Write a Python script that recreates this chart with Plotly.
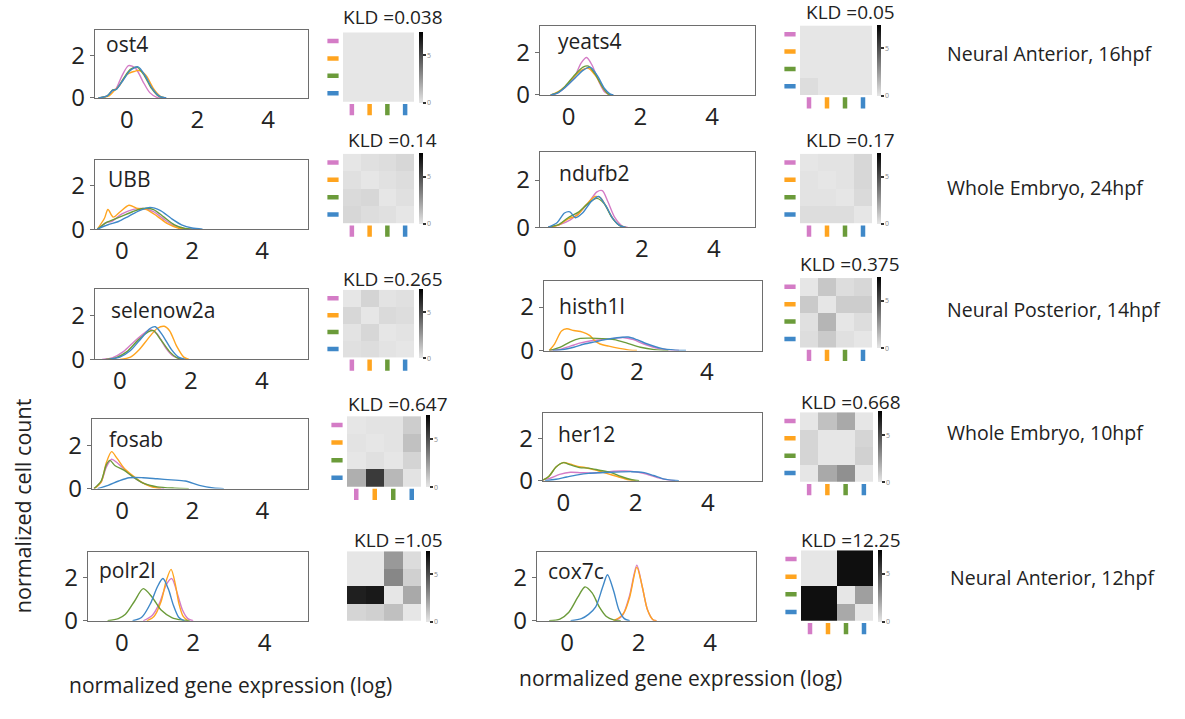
import plotly.graph_objects as go

W, H = 1185, 719
FONT = "Open Sans, DejaVu Sans, sans-serif"

# ---------------- data ----------------
genes = ["ost4", "UBB", "selenow2a", "fosab", "polr2l",
         "yeats4", "ndufb2", "histh1l", "her12", "cox7c"]
kld_labels = ["0.038", "0.14", "0.265", "0.647", "1.05",
              "0.05", "0.17", "0.375", "0.668", "12.25"]
conditions = ["Neural Anterior, 16hpf", "Whole Embryo, 24hpf",
              "Neural Posterior, 14hpf", "Whole Embryo, 10hpf",
              "Neural Anterior, 12hpf"]
groups = ["pink", "orange", "green", "blue"]
group_colors = {"pink": "#d47cc6", "orange": "#ffa41f",
                "green": "#6b9b3a", "blue": "#3f88c8"}
x_ticks = [0, 2, 4]
y_ticks = [0, 2]
cbar_ticks = [0, 5]

# density curves: group -> (x values, y values)
ost4 = {
    "orange": ([-0.8, -0.5, -0.35, -0.2, 0, 0.2, 0.35, 0.55, 0.75, 0.95, 1.1],
               [0, 0.1, 0.35, 0.6, 1.1, 1.25, 1.3, 1.05, 0.45, 0.08, 0]),
    "green": ([-0.8, -0.55, -0.4, -0.3, -0.1, 0.1, 0.3, 0.5, 0.7, 0.9, 1.1],
              [0, 0.1, 0.38, 0.4, 0.9, 1.35, 1.45, 1.05, 0.45, 0.08, 0]),
    "blue": ([-0.8, -0.55, -0.4, -0.3, -0.1, 0.1, 0.32, 0.52, 0.72, 0.92, 1.12],
             [0, 0.1, 0.36, 0.4, 0.85, 1.3, 1.47, 1.05, 0.45, 0.08, 0]),
    "pink": ([-0.8, -0.55, -0.4, -0.3, -0.15, 0.05, 0.25, 0.45, 0.65, 0.85, 1.0],
             [0, 0.1, 0.35, 0.45, 1.0, 1.53, 1.4, 0.8, 0.25, 0.03, 0]),
}
UBB = {
    "orange": ([-0.7, -0.5, -0.4, -0.25, -0.05, 0.2, 0.45, 0.7, 1.0, 1.3, 1.6, 1.8],
               [0, 0.5, 0.9, 0.55, 0.8, 1.1, 0.95, 0.9, 0.6, 0.25, 0.05, 0]),
    "pink": ([-0.7, -0.45, -0.3, 0, 0.3, 0.6, 0.9, 1.2, 1.5, 1.8, 2.0],
             [0, 0.3, 0.35, 0.7, 0.9, 0.95, 0.8, 0.45, 0.15, 0.02, 0]),
    "green": ([-0.7, -0.45, -0.3, 0, 0.3, 0.6, 0.9, 1.2, 1.5, 1.8, 2.0],
              [0, 0.3, 0.4, 0.6, 0.8, 0.95, 0.9, 0.55, 0.2, 0.03, 0]),
    "blue": ([-0.7, -0.4, -0.1, 0.2, 0.5, 0.8, 1.1, 1.4, 1.7, 2.0, 2.3],
             [0, 0.2, 0.35, 0.6, 0.85, 1.0, 0.85, 0.5, 0.2, 0.05, 0]),
}
selenow2a = {
    "pink": ([-0.5, -0.2, 0.1, 0.4, 0.7, 0.85, 1.05, 1.3, 1.5, 1.75],
             [0, 0.08, 0.35, 0.8, 1.2, 1.35, 1.15, 0.5, 0.15, 0]),
    "green": ([-0.4, -0.1, 0.2, 0.5, 0.8, 0.95, 1.15, 1.4, 1.6, 1.8],
              [0, 0.08, 0.35, 0.85, 1.25, 1.3, 0.9, 0.35, 0.08, 0]),
    "blue": ([-0.3, 0, 0.3, 0.6, 0.85, 1.0, 1.2, 1.45, 1.65, 1.85],
             [0, 0.1, 0.4, 0.95, 1.4, 1.48, 1.1, 0.45, 0.1, 0]),
    "orange": ([0, 0.3, 0.55, 0.8, 1.05, 1.25, 1.4, 1.6, 1.8, 1.95],
               [0, 0.1, 0.45, 0.95, 1.4, 1.5, 1.3, 0.6, 0.1, 0]),
}
fosab = {
    "blue": ([-0.7, -0.4, -0.1, 0.2, 0.6, 1.0, 1.4, 1.8, 2.2, 2.6, 2.9],
             [0, 0.15, 0.35, 0.5, 0.5, 0.45, 0.4, 0.35, 0.15, 0.03, 0]),
    "green": ([-0.8, -0.6, -0.45, -0.35, -0.2, 0.05, 0.3, 0.6, 1.0, 1.5, 1.9],
              [0, 0.35, 1.1, 1.3, 1.05, 0.85, 0.55, 0.25, 0.08, 0.02, 0]),
    "pink": ([-0.8, -0.6, -0.45, -0.3, -0.15, 0.05, 0.3, 0.6, 0.9, 1.2],
             [0, 0.3, 1.0, 1.35, 1.2, 0.9, 0.55, 0.25, 0.08, 0]),
    "orange": ([-0.8, -0.6, -0.45, -0.3, -0.15, 0.05, 0.3, 0.55, 0.8, 1.1],
               [0, 0.3, 1.2, 1.7, 1.4, 0.95, 0.6, 0.3, 0.1, 0]),
}
polr2l = {
    "green": ([-0.4, -0.1, 0.1, 0.35, 0.6, 0.85, 1.1, 1.4, 1.7, 1.9],
              [0, 0.1, 0.3, 0.9, 1.5, 1.1, 0.5, 0.15, 0.03, 0]),
    "blue": ([0.3, 0.55, 0.8, 1.0, 1.15, 1.3, 1.45, 1.6, 1.75],
             [0, 0.15, 0.8, 1.6, 1.97, 1.5, 0.7, 0.15, 0]),
    "pink": ([0.6, 0.85, 1.05, 1.25, 1.4, 1.55, 1.7, 1.85, 2.0],
             [0, 0.25, 0.8, 1.7, 1.97, 1.3, 0.5, 0.1, 0]),
    "orange": ([0.7, 0.9, 1.1, 1.25, 1.38, 1.5, 1.6, 1.72, 1.85],
               [0, 0.2, 0.9, 1.9, 2.4, 1.7, 0.8, 0.2, 0]),
}
yeats4 = {
    "blue": ([-0.5, -0.3, -0.1, 0.15, 0.4, 0.6, 0.8, 1.0, 1.15, 1.25],
             [0, 0.1, 0.35, 0.75, 1.15, 1.3, 0.9, 0.3, 0.05, 0]),
    "orange": ([-0.5, -0.3, -0.1, 0.15, 0.35, 0.55, 0.75, 0.95, 1.1, 1.2],
               [0, 0.15, 0.4, 0.85, 1.15, 1.25, 0.9, 0.35, 0.05, 0]),
    "green": ([-0.5, -0.3, -0.1, 0.15, 0.4, 0.55, 0.75, 0.95, 1.1, 1.2],
              [0, 0.12, 0.4, 0.9, 1.3, 1.35, 0.95, 0.35, 0.05, 0]),
    "pink": ([-0.5, -0.3, -0.1, 0.15, 0.35, 0.5, 0.65, 0.85, 1.0, 1.15],
             [0, 0.1, 0.35, 0.8, 1.5, 1.75, 1.4, 0.6, 0.15, 0]),
}
ndufb2 = {
    "green": ([-0.6, -0.3, -0.05, 0.25, 0.5, 0.75, 0.95, 1.15, 1.35, 1.5],
              [0, 0.12, 0.4, 0.65, 1.0, 1.22, 1.0, 0.45, 0.1, 0]),
    "orange": ([-0.6, -0.3, -0.05, 0.2, 0.45, 0.7, 0.85, 1.0, 1.2, 1.4, 1.55],
               [0, 0.1, 0.35, 0.5, 0.95, 1.3, 1.25, 0.9, 0.35, 0.05, 0]),
    "blue": ([-0.6, -0.35, -0.15, 0.0, 0.15, 0.35, 0.6, 0.8, 1.0, 1.2, 1.4, 1.55],
             [0, 0.2, 0.6, 0.65, 0.4, 0.6, 1.1, 1.3, 0.9, 0.35, 0.05, 0]),
    "pink": ([-0.6, -0.3, 0, 0.25, 0.5, 0.75, 0.9, 1.05, 1.25, 1.45, 1.6],
             [0, 0.1, 0.3, 0.6, 1.0, 1.5, 1.55, 1.1, 0.4, 0.05, 0]),
}
histh1l = {
    "blue": ([-0.4, -0.1, 0.2, 0.5, 0.8, 1.1, 1.4, 1.75, 2.0, 2.3, 2.7, 3.1, 3.4],
             [0, 0.05, 0.15, 0.3, 0.4, 0.5, 0.58, 0.62, 0.5, 0.3, 0.1, 0.02, 0]),
    "pink": ([-0.5, -0.2, 0.1, 0.4, 0.7, 1.0, 1.3, 1.6, 1.9, 2.2, 2.6, 3.0, 3.2],
             [0, 0.05, 0.2, 0.35, 0.45, 0.5, 0.55, 0.6, 0.5, 0.3, 0.1, 0.02, 0]),
    "green": ([-0.5, -0.2, 0.1, 0.35, 0.7, 1.0, 1.35, 1.7, 2.1, 2.5, 2.9],
              [0, 0.15, 0.4, 0.55, 0.57, 0.55, 0.5, 0.35, 0.15, 0.04, 0]),
    "orange": ([-0.5, -0.35, -0.15, 0, 0.2, 0.45, 0.65, 0.8, 0.95, 1.2, 1.5, 1.8, 2.0],
               [0, 0.3, 0.9, 1.0, 0.92, 0.85, 0.7, 0.45, 0.3, 0.2, 0.1, 0.02, 0]),
}
her12 = {
    "blue": ([-0.5, -0.2, 0.1, 0.4, 0.7, 1.0, 1.3, 1.6, 1.9, 2.2, 2.5, 2.8, 3.1, 3.2],
             [0, 0.07, 0.18, 0.28, 0.35, 0.38, 0.4, 0.42, 0.43, 0.4, 0.25, 0.08, 0.01, 0]),
    "pink": ([-0.7, -0.4, -0.1, 0.2, 0.5, 0.8, 1.1, 1.4, 1.7, 2.0, 2.3, 2.6, 2.9, 3.1],
             [0, 0.1, 0.3, 0.4, 0.38, 0.37, 0.4, 0.45, 0.46, 0.42, 0.32, 0.15, 0.04, 0]),
    "green": ([-0.6, -0.4, -0.2, 0, 0.2, 0.45, 0.7, 1.0, 1.3, 1.6, 1.9, 2.1],
              [0, 0.2, 0.65, 0.86, 0.75, 0.62, 0.6, 0.5, 0.4, 0.2, 0.05, 0]),
    "orange": ([-0.6, -0.4, -0.2, 0, 0.2, 0.4, 0.6, 0.9, 1.2, 1.5, 1.8, 2.0],
               [0, 0.2, 0.65, 0.86, 0.78, 0.68, 0.63, 0.5, 0.35, 0.2, 0.05, 0]),
}
cox7c = {
    "green": ([-0.5, -0.2, 0.05, 0.3, 0.5, 0.7, 0.9, 1.1, 1.3, 1.5],
              [0, 0.08, 0.4, 1.1, 1.58, 1.3, 0.65, 0.2, 0.04, 0]),
    "blue": ([0.1, 0.4, 0.6, 0.8, 1.0, 1.13, 1.3, 1.45, 1.6, 1.75],
             [0, 0.1, 0.3, 0.65, 1.6, 2.15, 1.4, 0.5, 0.1, 0]),
    "orange": ([1.3, 1.5, 1.6, 1.75, 1.95, 2.1, 2.25, 2.4, 2.5],
               [0, 0.2, 0.4, 1.1, 2.5, 1.6, 0.5, 0.05, 0]),
    "pink": ([1.35, 1.55, 1.75, 1.95, 2.1, 2.25, 2.4, 2.5],
             [0, 0.25, 1.2, 2.6, 1.6, 0.5, 0.05, 0]),
}
curves = {"ost4": ost4, "UBB": UBB, "selenow2a": selenow2a, "fosab": fosab,
          "polr2l": polr2l, "yeats4": yeats4, "ndufb2": ndufb2,
          "histh1l": histh1l, "her12": her12, "cox7c": cox7c}

# pairwise KLD matrices (rows/cols: pink, orange, green, blue)
ost4_kld = [[0, 0, 0, 0], [0, 0, 0, 0], [0, 0, 0, 0], [0, 0, 0, 0]]
UBB_kld = [[0, 0.2, 0.3, 0.5], [0.2, 0, 0.15, 0.3], [0.4, 0.5, 0, 0.2], [0.5, 0.3, 0.2, 0]]
selenow2a_kld = [[0, 0.6, 0.1, 0.2], [0.5, 0, 0.4, 0.3], [0.1, 0.5, 0, 0.1], [0.2, 0.3, 0.1, 0]]
fosab_kld = [[0, 0.1, 0.1, 0.8], [0.1, 0, 0.1, 1.2], [0, 0.2, 0, 0.6], [1.8, 5.6, 1.5, 0.1]]
polr2l_kld = [[0, 0, 2.5, 0.33], [0, 0, 3.1, 0.72], [6.5, 6.7, 0, 2.0], [0.55, 0.72, 1.24, 0]]
yeats4_kld = [[0, 0, 0, 0], [0, 0, 0, 0], [0, 0, 0, 0], [0.3, 0, 0, 0]]
ndufb2_kld = [[0, 0.1, 0.1, 0.5], [0.1, 0, 0.1, 0.5], [0.1, 0.1, 0, 0.4], [0.3, 0.3, 0.3, 0]]
histh1l_kld = [[0, 1.0, 0.3, 0.5], [0.9, 0, 0.8, 0.8], [0.2, 1.6, 0, 0.3], [0.3, 0.9, 0.2, 0]]
her12_kld = [[0, 1.2, 2.0, 0], [0.55, 0, 0, 0.55], [0.55, 0, 0, 0.7], [0, 2.0, 2.8, 0]]
cox7c_kld = [[0, 0, 7, 7], [0, 0, 7, 7], [7, 7, 0, 2.3], [7, 7, 2.0, 0]]
kld = {"ost4": ost4_kld, "UBB": UBB_kld, "selenow2a": selenow2a_kld,
       "fosab": fosab_kld, "polr2l": polr2l_kld, "yeats4": yeats4_kld,
       "ndufb2": ndufb2_kld, "histh1l": histh1l_kld, "her12": her12_kld,
       "cox7c": cox7c_kld}

# ---------------- layout geometry (pixels) ----------------
# line box: x0, x1, ytop, ybottom, x-range, label position
line_geom = {
    "ost4": (95, 308, 31, 100, [-0.9, 5.13], (104, 45)),
    "UBB": (95, 308, 163, 234, [-0.77, 5.31], (106, 183)),
    "selenow2a": (95, 308, 295, 367, [-0.7, 5.3], (109, 317)),
    "fosab": (92, 308, 428, 499, [-0.86, 5.3], (107, 448)),
    "polr2l": (88, 308, 564, 634, [-0.95, 5.22], (97, 582)),
    "yeats4": (540, 755, 27, 97, [-0.8, 5.2], (556, 42)),
    "ndufb2": (540, 755, 155, 232, [-0.83, 5.14], (557, 177)),
    "histh1l": (544, 762, 287, 358, [-0.65, 5.57], (557, 313)),
    "her12": (543, 762, 422, 491, [-0.56, 5.5], (556, 443)),
    "cox7c": (537, 756, 564, 634, [-0.84, 5.28], (546, 583)),
}
# heatmap: x0, x1, y0, y1, title y, show colour marks
heat_geom = {
    "ost4": (343, 414, 33, 104, 17, True),
    "UBB": (343, 414, 157, 228, 143, True),
    "selenow2a": (343, 414, 296, 365, 285, True),
    "fosab": (347, 421, 425, 497, 413, True),
    "polr2l": (347, 421, 563, 634, 551, False),
    "yeats4": (800, 872, 26, 97, 12, True),
    "ndufb2": (800, 872, 157, 228, 143, True),
    "histh1l": (800, 872, 284, 355, 270, True),
    "her12": (800, 873, 421, 492, 411, True),
    "cox7c": (801, 873, 562, 634, 552, True),
}
cond_pos = [(945, 55), (945, 191), (945, 316), (945, 442), (948, 590)]
MARK_LEFT = 10    # px from heatmap left edge to row-mark centre
MARK_BELOW = 8    # px from heatmap bottom edge to column-mark centre
MARK_PAD = 16     # extra px of the mark subplot beyond the heatmap


def px(x):
    return x / W


def py(y):
    return 1 - y / H


fig = go.Figure()
layout = {}
annotations = []
ax = 0
cols = [group_colors[k] for k in groups]
for g in genes:
    # ---- density line panel
    ax += 1
    xa, ya = f"x{ax}", f"y{ax}"
    x0, x1, yt, yb, xr, (lx, ly) = line_geom[g]
    for grp in groups:
        xs, ys = curves[g][grp]
        fig.add_trace(go.Scatter(x=xs, y=ys, mode="lines", xaxis=xa, yaxis=ya,
                                 line=dict(color=group_colors[grp], width=1.4,
                                           shape="spline", smoothing=0.8),
                                 showlegend=False, hoverinfo="skip"))
    layout[f"xaxis{ax}"] = dict(domain=[px(x0), px(x1)], anchor=ya, range=xr,
                                tickvals=x_ticks, ticks="", showgrid=False,
                                zeroline=False, showline=True, mirror=True,
                                linecolor="#6e6e6e", linewidth=1.3,
                                tickfont=dict(size=24, color="#222", family=FONT))
    layout[f"yaxis{ax}"] = dict(domain=[py(yb), py(yt)], anchor=xa, range=[0, 3.2],
                                tickvals=y_ticks, ticks="outside", ticklen=4,
                                tickcolor="#6e6e6e", showgrid=False, zeroline=False,
                                showline=True, mirror=True, linecolor="#6e6e6e",
                                linewidth=1.3,
                                tickfont=dict(size=24, color="#222", family=FONT))
    annotations.append(dict(x=px(lx), y=py(ly), xref="paper", yref="paper",
                            text=g, showarrow=False, xanchor="left",
                            yanchor="middle",
                            font=dict(size=21, color="#222", family=FONT)))

    # ---- heatmap panel
    ax += 1
    xa, ya = f"x{ax}", f"y{ax}"
    hx0, hx1, hy0, hy1, ty, marks = heat_geom[g]
    fig.add_trace(go.Heatmap(
        z=kld[g], x=[0, 1, 2, 3], y=[0, 1, 2, 3], xaxis=xa, yaxis=ya,
        zmin=0, zmax=7.5, colorscale=[[0, "#e6e6e6"], [1, "#000000"]],
        hoverinfo="skip",
        colorbar=dict(x=px(hx1 + 5), xanchor="left", y=py((hy0 + hy1) / 2),
                      yanchor="middle", len=hy1 - hy0, lenmode="pixels",
                      thickness=4, thicknessmode="pixels", outlinewidth=0,
                      tickvals=cbar_ticks, ticks="outside", ticklen=3,
                      tickwidth=2, tickcolor="#333", xpad=0, ypad=0,
                      tickfont=dict(size=7, color="#888888", family=FONT))))
    layout[f"xaxis{ax}"] = dict(domain=[px(hx0), px(hx1)], anchor=ya,
                                range=[-0.5, 3.5], showgrid=False, zeroline=False,
                                showticklabels=False, ticks="", showline=False)
    layout[f"yaxis{ax}"] = dict(domain=[py(hy1), py(hy0)], anchor=xa,
                                range=[3.5, -0.5], showgrid=False, zeroline=False,
                                showticklabels=False, ticks="", showline=False)
    annotations.append(dict(x=px((hx0 + hx1) / 2 + 14), y=py(ty), xref="paper",
                            yref="paper", text="KLD =" + kld_labels[genes.index(g)],
                            showarrow=False, xanchor="center", yanchor="middle",
                            font=dict(size=19, color="#222", family=FONT)))

    # ---- colour marks for rows / columns (own subplot, same cell scale)
    if marks:
        ax += 1
        xa, ya = f"x{ax}", f"y{ax}"
        cw = (hx1 - hx0) / 4.0
        ch = (hy1 - hy0) / 4.0
        fig.add_trace(go.Scatter(
            x=[-0.5 - MARK_LEFT / cw] * 4, y=[0, 1, 2, 3], mode="markers",
            xaxis=xa, yaxis=ya,
            marker=dict(symbol="line-ew", size=8, color=cols,
                        line=dict(color=cols, width=4.5)),
            showlegend=False, hoverinfo="skip"))
        fig.add_trace(go.Scatter(
            x=[0, 1, 2, 3], y=[3.5 + MARK_BELOW / ch] * 4, mode="markers",
            xaxis=xa, yaxis=ya,
            marker=dict(symbol="line-ns", size=8, color=cols,
                        line=dict(color=cols, width=4.5)),
            showlegend=False, hoverinfo="skip"))
        layout[f"xaxis{ax}"] = dict(domain=[px(hx0 - MARK_PAD), px(hx1)], anchor=ya,
                                    range=[-0.5 - MARK_PAD / cw, 3.5],
                                    visible=False, showgrid=False, zeroline=False)
        layout[f"yaxis{ax}"] = dict(domain=[py(hy1 + MARK_PAD), py(hy0)], anchor=xa,
                                    range=[3.5 + MARK_PAD / ch, -0.5],
                                    visible=False, showgrid=False, zeroline=False)

for c, (cx, cy) in zip(conditions, cond_pos):
    annotations.append(dict(x=px(cx), y=py(cy), xref="paper", yref="paper",
                            text=c, showarrow=False, xanchor="left",
                            yanchor="middle",
                            font=dict(size=19.5, color="#222", family=FONT)))

annotations.append(dict(x=px(230), y=py(700), xref="paper", yref="paper",
                        text="normalized gene expression (log)", showarrow=False,
                        xanchor="center", yanchor="middle",
                        font=dict(size=21, color="#222", family=FONT)))
annotations.append(dict(x=px(680), y=py(692), xref="paper", yref="paper",
                        text="normalized gene expression (log)", showarrow=False,
                        xanchor="center", yanchor="middle",
                        font=dict(size=21, color="#222", family=FONT)))
annotations.append(dict(x=px(22), y=py(517), xref="paper", yref="paper",
                        text="normalized cell count", showarrow=False,
                        textangle=-90, xanchor="center", yanchor="middle",
                        font=dict(size=21.5, color="#222", family=FONT)))

fig.update_layout(width=W, height=H, margin=dict(l=0, r=0, t=0, b=0),
                  paper_bgcolor="white", plot_bgcolor="rgba(0,0,0,0)",
                  showlegend=False, annotations=annotations, **layout)

fig.write_html("out.html")
